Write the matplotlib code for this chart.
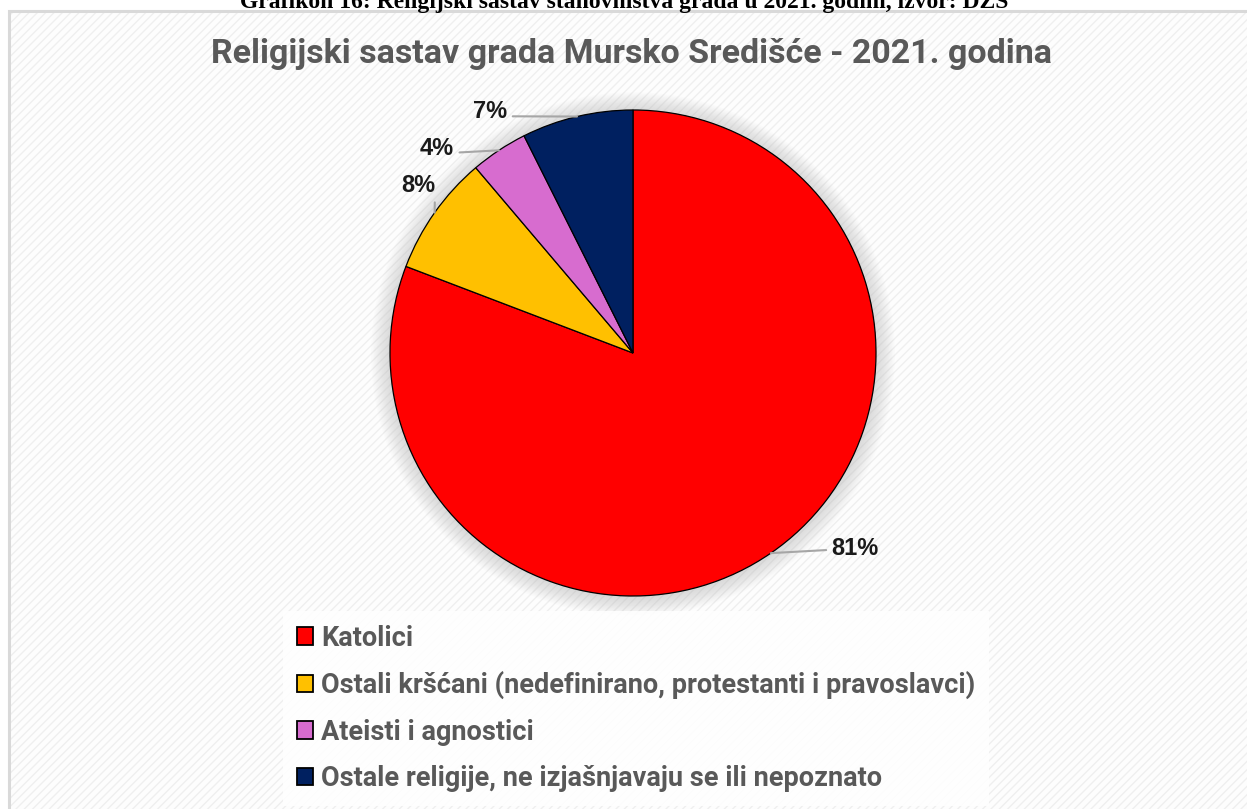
import matplotlib
matplotlib.use("Agg")
import matplotlib.pyplot as plt
from matplotlib import font_manager
from matplotlib.patches import Rectangle, Patch, Circle
import numpy as np

categories = ["Katolici",
              "Ostali kršćani (nedefinirano, protestanti i pravoslavci)",
              "Ateisti i agnostici",
              "Ostale religije, ne izjašnjavaju se ili nepoznato"]
values = [80.8, 8.0, 3.8, 7.4]
colors = ["#ff0000", "#ffc000", "#d76ccf", "#002060"]
title = "Religijski sastav grada Mursko Središće - 2021. godina"
caption = "Grafikon 16: Religijski sastav stanovništva grada u 2021. godini, izvor: DZS"

W, H = 1247, 809
DPI = 100

def pick(fams):
    for f in fams:
        try:
            font_manager.findfont(font_manager.FontProperties(family=f), fallback_to_default=False)
            return f
        except Exception:
            pass
    return "DejaVu Sans"

sans = pick(["Roboto", "Open Sans", "DejaVu Sans"])

fig = plt.figure(figsize=(W / DPI, H / DPI), dpi=DPI)
fig.patch.set_facecolor("white")

def fx(px):
    return px / W

def fy(py):
    return 1 - py / H

# chart area background with diagonal stripes
bg = Rectangle((fx(9), 0), 1, fy(11), transform=fig.transFigure,
               facecolor="#fdfdfd", edgecolor="#efefef", hatch="////", lw=0, zorder=-10)
fig.patches.append(bg)
border = Rectangle((fx(9), -0.01), 1, fy(11) + 0.01, transform=fig.transFigure,
                   facecolor="none", edgecolor="#d9d9d9", lw=2.2, zorder=-9)
fig.patches.append(border)

# cropped caption at very top
fig.text(fx(624), fy(8), caption, ha="center", va="baseline",
         family="Liberation Serif", fontweight="bold", fontsize=17, color="black")

# chart title
fig.text(fx(631.5), fy(63), title, ha="center", va="baseline",
         family=sans, fontweight="bold", fontsize=24.5, color="#595959")

# pie
cx, cy, R = 633, 353, 243
ax = fig.add_axes([fx(cx - R), fy(cy + R), (2 * R) / W, (2 * R) / H])

for i in range(14):
    ax.add_patch(Circle((0, -0.005), 1 + 0.006 * i, facecolor="#808080",
                        alpha=0.02, lw=0, zorder=0, clip_on=False))

wedges, _ = ax.pie(values, colors=colors, startangle=90, counterclock=False,
                   radius=1, wedgeprops=dict(edgecolor="black", linewidth=0.9),
                   normalize=True)
for w in wedges:
    w.set_zorder(2)
    w.set_clip_on(False)
ax.set_xlim(-1, 1)
ax.set_ylim(-1, 1)
ax.set_aspect("equal")
ax.axis("off")

# label positions (offsets in radius units)
label_pos = [(0.915, -0.805), (-0.885, 0.69), (-0.807, 0.843), (-0.588, 0.993)]
relpos = [(0, 0.45), (1, 0.3), (1, 0.3), (1, 0.3)]
pct = [f"{round(v):.0f}%" for v in values]
for w, (lx, ly), rp, t in zip(wedges, label_pos, relpos, pct):
    mid = np.deg2rad((w.theta1 + w.theta2) / 2)
    ex, ey = np.cos(mid), np.sin(mid)
    ax.annotate(t, xy=(ex, ey), xytext=(lx, ly), ha="center", va="center",
                fontsize=17, fontweight="bold", family="Liberation Sans",
                color="#1a1a1a", annotation_clip=False,
                arrowprops=dict(arrowstyle="-", color="#a6a6a6", lw=1.5,
                                shrinkA=2, shrinkB=0, relpos=rp))

# legend
handles = [Patch(facecolor=c, edgecolor="black", lw=1.3) for c in colors]
leg = fig.legend(handles, categories, loc="upper left",
                 bbox_to_anchor=(fx(283), fy(611)), bbox_transform=fig.transFigure,
                 frameon=True, fancybox=False, framealpha=0.85,
                 prop=font_manager.FontProperties(family=sans, weight="bold", size=19.5),
                 labelcolor="#595959", handlelength=0.6, handleheight=0.62,
                 handletextpad=0.3, labelspacing=0.72, borderpad=0.5,
                 borderaxespad=0)
leg.get_frame().set_edgecolor("none")
leg.get_frame().set_facecolor("white")

fig.savefig("out.png", dpi=DPI, facecolor="white")
